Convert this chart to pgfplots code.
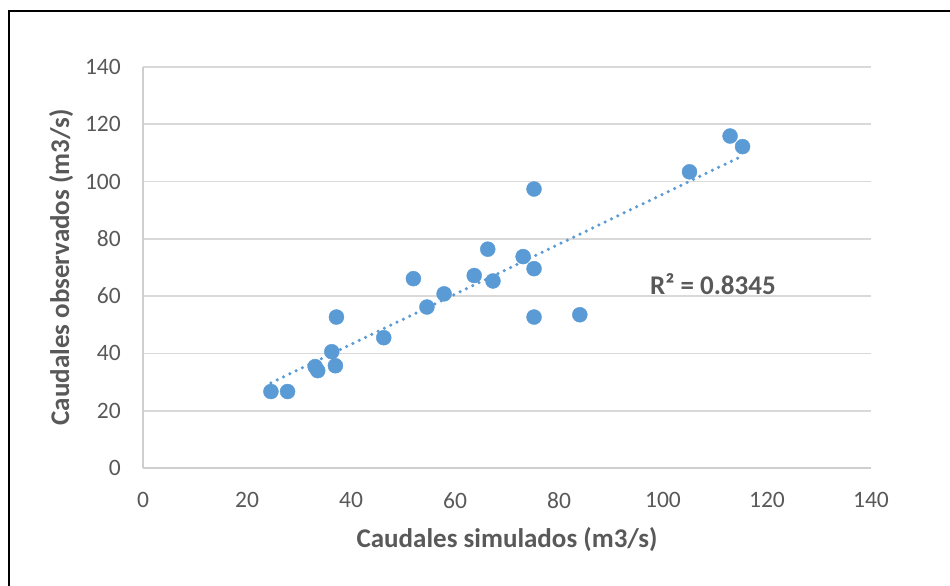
\documentclass[border=0pt]{standalone}
\usepackage{pgfplots}
\usepackage{fontspec}
\setmainfont{Carlito}
\pgfplotsset{compat=1.18}
\definecolor{PtBlue}{HTML}{5B9BD5}
\definecolor{TxtGray}{HTML}{595959}
\definecolor{GridGray}{HTML}{D9D9D9}

\begin{document}
\begin{tikzpicture}[x=1pt,y=1pt]
\path[use as bounding box] (0,0) rectangle (950,586);
% outer chart frame (only top and left edges are inside the picture)
\draw[line width=2pt,black] (9,-5) -- (9,575) -- (955,575);
\begin{axis}[
    at={(143pt,118pt)},
    anchor=origin,
    scale only axis,
    width=728pt,
    height=401pt,
    xmin=0, xmax=140,
    ymin=0, ymax=140,
    xtick={0,20,...,140},
    ytick={0,20,...,140},
    axis x line=bottom,
    axis y line=left,
    axis line style={draw=GridGray!95!black,line width=1.6pt,-},
    major tick length=0pt,
    ymajorgrids=true,
    grid style={GridGray,line width=1.6pt},
    /pgf/number format/assume math mode=true,
    tick label style={font=\fontsize{23.5}{27}\selectfont,text=TxtGray,inner sep=0pt},
    yticklabel style={anchor=east,xshift=-22pt},
    xticklabel style={anchor=north,yshift=-24pt},
    xlabel={Caudales simulados (m3/s)},
    ylabel={Caudales observados (m3/s)},
    label style={font=\bfseries\fontsize{27}{31}\selectfont,text=TxtGray},
    xlabel style={at={(axis description cs:0.5,-0.1796)},anchor=center},
    ylabel style={at={(axis description cs:-0.1126,0.5)},anchor=center,rotate=0},
    clip=false,
]
% linear trendline
\addplot[PtBlue,line width=3.5pt,line cap=round,dash pattern=on 0pt off 7pt]
    coordinates {(24.6,29.7) (115.3,109.0)};
% observed vs simulated
\addplot[only marks,mark=*,mark size=7.5pt,color=PtBlue,fill=PtBlue]
    coordinates {
    (24.6,26.7) (27.8,26.7) (33.1,35.4) (33.6,34.0) (36.3,40.6)
    (37.0,35.7) (37.2,52.7) (46.3,45.5) (52.0,66.1) (54.6,56.2)
    (57.9,60.8) (63.7,67.2) (66.3,76.4) (67.3,65.3) (73.1,73.8)
    (75.2,69.6) (75.2,52.7) (84.0,53.5) (75.2,97.4) (105.1,103.4)
    (112.9,115.9) (115.3,112.2)
    };
\node[font=\bfseries\fontsize{27}{31}\selectfont,text=TxtGray] at (axis cs:109.6,64.2) {R² = 0.8345};
\end{axis}
\end{tikzpicture}
\end{document}
